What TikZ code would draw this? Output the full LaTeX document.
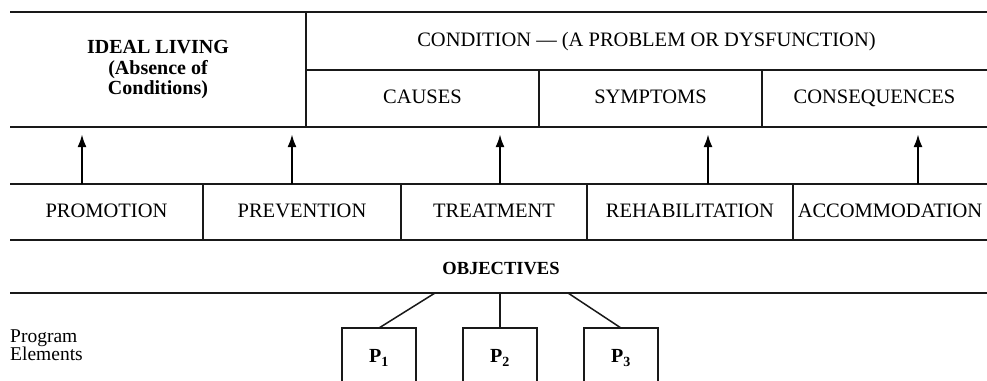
\documentclass[tikz,border=0pt]{standalone}
\usepackage{fontspec}
\setmainfont{Liberation Serif}
\usetikzlibrary{arrows.meta,positioning}
\tikzset{
  cell/.style={inner sep=0pt, outer sep=0pt, minimum height=56pt, align=center,
    font=\fontsize{20.5}{22}\selectfont},
  rowtext/.style={cell, text height=14pt, text depth=4pt},
  rule/.style={line width=1.4pt, draw=black!90},
  uparrow/.style={-{Latex[length=13pt,width=9pt]}, line width=2.4pt},
  progbox/.style={draw=black!90, line width=1.4pt, inner sep=0pt, outer sep=0pt,
    minimum width=74pt, minimum height=60pt, font=\bfseries\fontsize{20}{22}\selectfont},
  branch/.style={line width=1.5pt, draw=black!90},
  sidetext/.style={align=left, inner sep=0pt, font=\fontsize{19.5}{18}\selectfont}
}

\begin{document}
\begin{tikzpicture}[x=1pt, y=-1pt]
  \useasboundingbox (0,0) rectangle (987,380);
  \clip (0,0) rectangle (987,380);

  % top row
  \node[cell, anchor=north west, minimum width=296pt, minimum height=115pt,
    font=\bfseries\fontsize{20}{17}\selectfont] (ideal) at (10,12)
    {IDEAL LIVING\\[4pt](Absence of\\Conditions)};
  \node[rowtext, anchor=north west, minimum width=681pt, minimum height=58pt] (cond) at (306,12)
    {CONDITION --- (A PROBLEM OR DYSFUNCTION)};
  \node[rowtext, anchor=north west, minimum width=233pt, minimum height=57pt] (causes) at (cond.south west) {CAUSES};
  \node[rowtext, right=0pt of causes, minimum width=223pt, minimum height=57pt] (symptoms) {SYMPTOMS};
  \node[rowtext, right=0pt of symptoms, minimum width=225pt, minimum height=57pt] (conseq) {CONSEQUENCES};

  \draw[rule] (ideal.north west) -- (cond.north east);
  \draw[rule] (ideal.south west) -- (conseq.south east);
  \draw[rule] (cond.south west) -- (cond.south east);
  \draw[rule] (ideal.north east) -- (ideal.south east);
  \draw[rule] (causes.north east) -- (causes.south east);
  \draw[rule] (symptoms.north east) -- (symptoms.south east);

  % objectives row
  \node[rowtext, anchor=north west, minimum width=193pt] (promo) at (10,184) {PROMOTION};
  \node[rowtext, right=0pt of promo, minimum width=198pt] (prevent) {PREVENTION};
  \node[rowtext, right=0pt of prevent, minimum width=186pt] (treat) {TREATMENT};
  \node[rowtext, right=0pt of treat, minimum width=206pt] (rehab) {REHABILITATION};
  \node[rowtext, right=0pt of rehab, minimum width=194pt] (accom) {ACCOMMODATION};

  \draw[rule] (promo.north west) -- (accom.north east);
  \draw[rule] (promo.south west) -- (accom.south east);
  \foreach \c in {promo,prevent,treat,rehab}
    \draw[rule] (\c.north east) -- (\c.south east);

  \foreach \x [count=\i] in {82,292,500,708,918} {
    \coordinate (tip\i) at (\x,134);
    \draw[uparrow] (tip\i |- promo.north) -- (tip\i);
  }

  % program elements
  \node[font=\bfseries\fontsize{18.5}{20}\selectfont, inner sep=0pt] (obj) at (501,269) {OBJECTIVES};
  \coordinate (objleft) at (10,293);
  \coordinate (objright) at (987,293);
  \draw[rule] (objleft) -- (objright);

  \node[progbox, anchor=north] (p2) at (500,328) {\raisebox{-1pt}{P\textsubscript{2}}};
  \node[progbox, left=47pt of p2] (p1) {\raisebox{-1pt}{P\textsubscript{1}}};
  \node[progbox, right=47pt of p2] (p3) {\raisebox{-1pt}{P\textsubscript{3}}};

  \coordinate (j1) at (435,293);
  \coordinate (j3) at (568,293);
  \draw[branch] (j1) -- (p1.north);
  \draw[branch] (p2.north |- objleft) -- (p2.north);
  \draw[branch] (j3) -- (p3.north);

  \node[sidetext, anchor=west] (progel) at (10,345) {Program\\Elements};
\end{tikzpicture}
\end{document}
